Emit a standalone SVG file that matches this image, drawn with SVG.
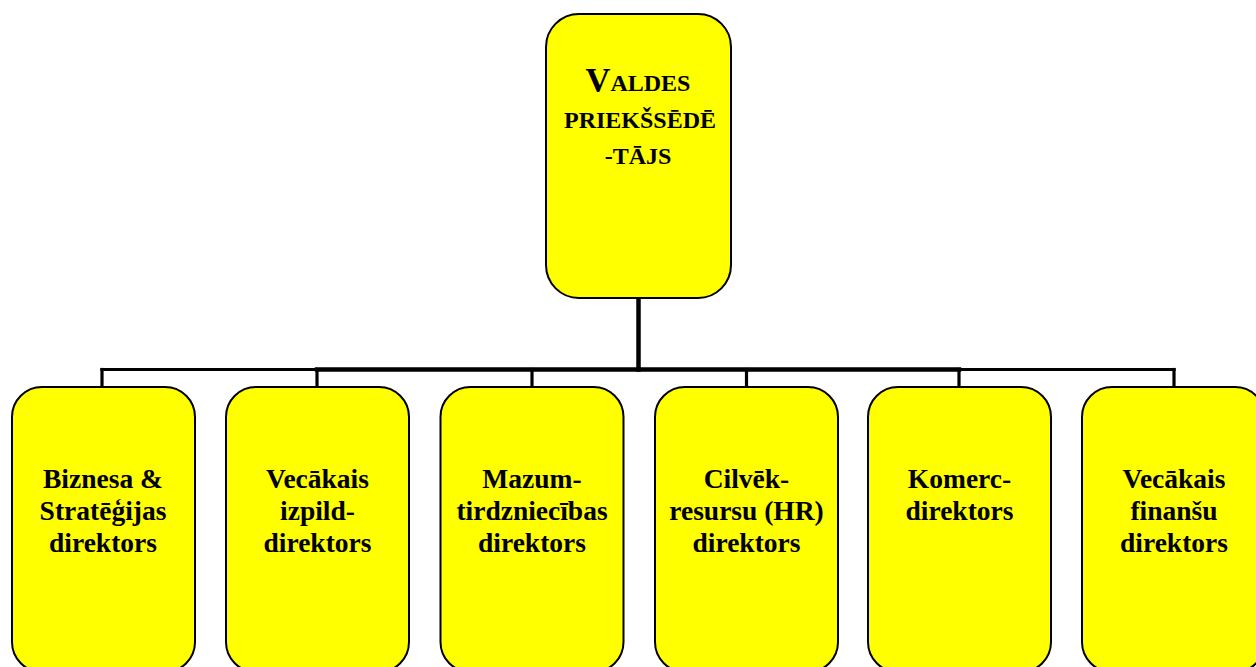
<svg xmlns="http://www.w3.org/2000/svg" width="1256" height="667" viewBox="0 0 1256 667">
  <style>
    .box { fill: #ffff00; stroke: #000; stroke-width: 2; }
    .lbl { font-family: "Liberation Serif", "Times New Roman", serif; font-weight: bold; font-size: 27.5px; fill: #000; text-anchor: middle; }
    .head { font-family: "Liberation Serif", "Times New Roman", serif; font-weight: bold; font-size: 24px; fill: #000; text-anchor: middle; }
    .wire { fill: none; stroke: #000; stroke-linecap: square; }
    .thick { stroke-width: 4.5; }
    .thin { stroke-width: 3.2; }
  </style>
  <rect width="1256" height="667" fill="#fff"/>

  <g id="connectors">
    <line class="wire thick" x1="638.5" y1="298" x2="638.5" y2="369.5"/>
    <line class="wire thick" x1="317" y1="369.5" x2="959" y2="369.5"/>
    <line class="wire thin" x1="102" y1="369.5" x2="317" y2="369.5"/>
    <line class="wire thin" x1="959" y1="369.5" x2="1174" y2="369.5"/>
    <line class="wire thin" x1="102" y1="369.5" x2="102" y2="387"/>
    <line class="wire thin" x1="317" y1="369.5" x2="317" y2="387"/>
    <line class="wire thin" x1="532" y1="369.5" x2="532" y2="387"/>
    <line class="wire thin" x1="746.5" y1="369.5" x2="746.5" y2="387"/>
    <line class="wire thin" x1="959" y1="369.5" x2="959" y2="387"/>
    <line class="wire thin" x1="1174" y1="369.5" x2="1174" y2="387"/>
  </g>

  <g id="chair">
    <rect class="box" x="546" y="14" width="185" height="284" rx="33" ry="33"/>
    <text class="head" x="638" y="91"><tspan font-size="34.5">V</tspan>ALDES</text>
    <text class="head" x="640" y="127.5">PRIEKŠSĒDĒ</text>
    <text class="head" x="638" y="163.5">-TĀJS</text>
  </g>

  <g id="business-strategy">
    <rect class="box" x="12" y="387" width="183" height="285" rx="30" ry="30"/>
    <text class="lbl" x="103" y="488">Biznesa &amp;</text>
    <text class="lbl" x="103" y="520">Stratēģijas</text>
    <text class="lbl" x="103" y="552">direktors</text>
  </g>

  <g id="senior-executive">
    <rect class="box" x="226" y="387" width="183" height="285" rx="30" ry="30"/>
    <text class="lbl" x="317.5" y="488">Vecākais</text>
    <text class="lbl" x="317.5" y="520">izpild-</text>
    <text class="lbl" x="317.5" y="552">direktors</text>
  </g>

  <g id="retail">
    <rect class="box" x="440.5" y="387" width="183" height="285" rx="30" ry="30"/>
    <text class="lbl" x="532" y="488">Mazum-</text>
    <text class="lbl" x="532" y="520">tirdzniecības</text>
    <text class="lbl" x="532" y="552">direktors</text>
  </g>

  <g id="human-resources">
    <rect class="box" x="655" y="387" width="183" height="285" rx="30" ry="30"/>
    <text class="lbl" x="746.5" y="488">Cilvēk-</text>
    <text class="lbl" x="746.5" y="520">resursu (HR)</text>
    <text class="lbl" x="746.5" y="552">direktors</text>
  </g>

  <g id="commercial">
    <rect class="box" x="868" y="387" width="183" height="285" rx="30" ry="30"/>
    <text class="lbl" x="959.5" y="488">Komerc-</text>
    <text class="lbl" x="959.5" y="520">direktors</text>
  </g>

  <g id="senior-finance">
    <rect class="box" x="1082" y="387" width="183" height="285" rx="30" ry="30"/>
    <text class="lbl" x="1174" y="488">Vecākais</text>
    <text class="lbl" x="1174" y="520">finanšu</text>
    <text class="lbl" x="1174" y="552">direktors</text>
  </g>
</svg>
